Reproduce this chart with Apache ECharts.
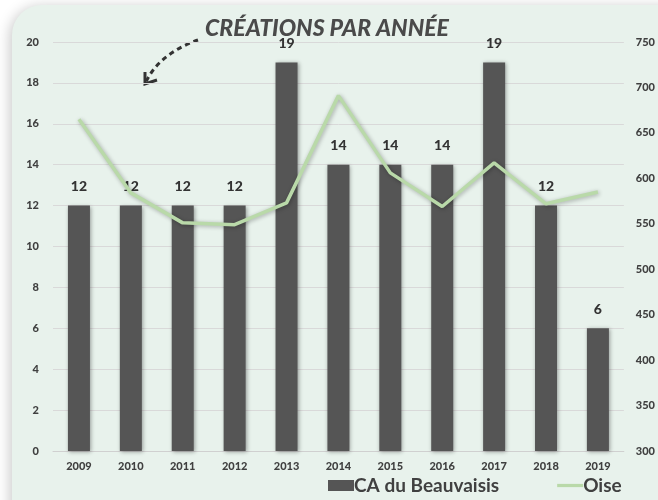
<!DOCTYPE html>
<html><head><meta charset="utf-8">
<script src="https://cdn.jsdelivr.net/npm/echarts@6/dist/echarts.min.js"></script>
<style>html,body{margin:0;padding:0;background:#fff}#c{width:658px;height:500px}</style>
</head><body><div id="c"></div>
<script>
var years = ['2009','2010','2011','2012','2013','2014','2015','2016','2017','2018','2019'];
var beauvaisis = [12,12,12,12,19,14,14,14,19,12,6];
var oise = [665,584,551,549,573,691,606,569,617,572,585];
var titleText = 'CRÉATIONS PAR ANNÉE';

var chart = echarts.init(document.getElementById('c'), null, {renderer:'canvas'});
var lab = {fontFamily:'Lato', fontWeight:900, color:'#404040', fontSize:11};
chart.setOption({
  backgroundColor:'#ffffff',
  animation:false,
  graphic:[
    {type:'rect', z:-10, shape:{x:12,y:5,width:700,height:560,r:30},
     style:{fill:'#e8f2ec', shadowBlur:14, shadowColor:'rgba(0,0,0,0.22)', shadowOffsetX:-2, shadowOffsetY:2}},
    {type:'text', x:327, y:17, style:{text:titleText, font:'italic 900 23px Lato', fill:'#4a4a4a', align:'center'}},
    {type:'bezierCurve', shape:{x1:198,y1:40,cpx1:178,cpy1:47,cpx2:156,cpy2:60,x2:146,y2:82},
     style:{stroke:'#333', lineWidth:3, lineDash:[5,4], fill:null}},
    {type:'polyline', shape:{points:[[145,72],[145,84],[157,80]]}, style:{stroke:'#333', lineWidth:3, fill:null}}
  ],
  grid:{left:53, right:33, top:42, bottom:49, containLabel:false},
  legend:{bottom:0, left:323, itemGap:58, itemWidth:26, itemHeight:11,
    textStyle:{fontFamily:'Lato', fontSize:19, fontWeight:'bold', color:'#404040', padding:[0,0,0,-5]},
    data:[{name:'CA du Beauvaisis', icon:'rect'},{name:'Oise', icon:'path://M0,0H32V4H0Z'}]},
  xAxis:{type:'category', data:years, axisTick:{show:false},
    axisLine:{lineStyle:{color:'#d0d0d0', width:1}},
    axisLabel:Object.assign({margin:10}, lab)},
  yAxis:[
    {type:'value', min:0, max:20, interval:2, axisLabel:Object.assign({margin:14}, lab),
     splitLine:{lineStyle:{color:'#d9d9d9'}}, axisLine:{show:false}, axisTick:{show:false}},
    {type:'value', min:300, max:750, interval:50, axisLabel:Object.assign({margin:12}, lab),
     splitLine:{show:false}, axisLine:{show:false}, axisTick:{show:false}}
  ],
  series:[
    {name:'CA du Beauvaisis', type:'bar', data:beauvaisis, barWidth:22,
     itemStyle:{color:'#555555', shadowBlur:4, shadowColor:'rgba(0,0,0,0.35)', shadowOffsetX:1, shadowOffsetY:1},
     label:{show:true, position:'top', distance:12, fontFamily:'Lato', fontWeight:900, fontSize:14, color:'#333'}},
    {name:'Oise', type:'line', yAxisIndex:1, data:oise, symbol:'none',
     lineStyle:{color:'#b9d9a9', width:3.5, shadowBlur:4, shadowColor:'rgba(0,0,0,0.3)', shadowOffsetX:1, shadowOffsetY:1},
     itemStyle:{color:'#b9d9a9'}}
  ]
});
</script></body></html>
